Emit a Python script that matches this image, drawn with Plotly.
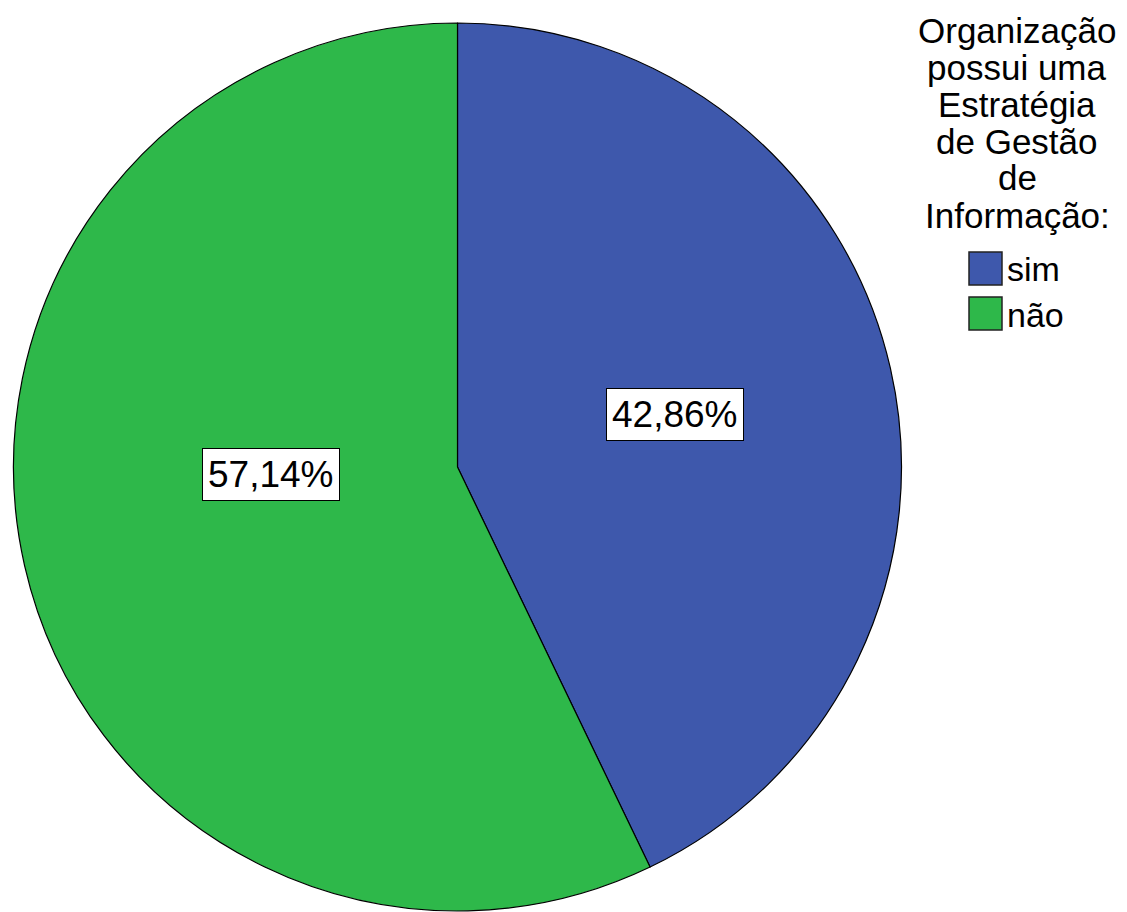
import math
import plotly.graph_objects as go

# ---- data ----
categories = ["sim", "não"]
values = [42.86, 57.14]
value_labels = ["42,86%", "57,14%"]
colors = ["#3E58AC", "#2EB84A"]
legend_title_lines = ["Organização", "possui uma", "Estratégia", "de Gestão", "de", "Informação:"]

# ---- layout constants (screen pixels) ----
W, H = 1127, 912
OFF = 8  # page body margin
pie_left, pie_right, pie_top, pie_bottom = 12, 903, 23, 911
FONT = "Liberation Sans, Arial, sans-serif"

def px_x(x):
    return (x - OFF) / W

def px_y(y):
    return 1 - (y - OFF) / H

fig = go.Figure(go.Pie(
    labels=categories,
    values=values,
    sort=False,
    direction="clockwise",
    rotation=0,
    marker=dict(colors=colors, line=dict(color="black", width=1.2)),
    textinfo="none",
    hoverinfo="label+percent",
    domain=dict(x=[px_x(pie_left), px_x(pie_right)], y=[px_y(pie_bottom), px_y(pie_top)]),
    showlegend=False,
))

# label placement: slice mid-angle, radial fraction and angle shift
label_frac = [0.503, 0.42]
label_shift = [-0.8, 10.4]
cx = (pie_left + pie_right) / 2
cy = (pie_top + pie_bottom) / 2
r = min(pie_right - pie_left, pie_bottom - pie_top) / 2
total = sum(values)
cum = 0
annotations = []
for i, v in enumerate(values):
    mid = (cum + v / 2) / total * 360 + label_shift[i]
    cum += v
    th = math.radians(mid)
    x = cx + r * label_frac[i] * math.sin(th)
    y = cy - r * label_frac[i] * math.cos(th)
    annotations.append(dict(
        x=px_x(x), y=px_y(y), xref="paper", yref="paper",
        text=value_labels[i], showarrow=False,
        font=dict(family=FONT, size=37, color="black"),
        bgcolor="white", bordercolor="black", borderwidth=1, borderpad=5,
        xanchor="center", yanchor="middle",
    ))

# legend title, one line each
title_cx = 1017
first_center = 30
pitch = 37
for j, line in enumerate(legend_title_lines):
    annotations.append(dict(
        x=px_x(title_cx), y=px_y(first_center + j * pitch), xref="paper", yref="paper",
        text=line, showarrow=False,
        font=dict(family=FONT, size=35, color="black"),
        xanchor="center", yanchor="middle",
    ))

# legend items
shapes = []
sw_left, sw_size = 969, 33
item_top0, item_pitch = 252, 45
for k, (cat, col) in enumerate(zip(categories, colors)):
    top = item_top0 + k * item_pitch
    shapes.append(dict(
        type="rect", xref="paper", yref="paper",
        x0=px_x(sw_left), x1=px_x(sw_left + sw_size),
        y0=px_y(top + sw_size), y1=px_y(top),
        fillcolor=col, line=dict(color="#222222", width=1.5),
    ))
    annotations.append(dict(
        x=px_x(sw_left + sw_size + 3), y=px_y(top + sw_size / 2 + 1), xref="paper", yref="paper",
        text=cat, showarrow=False,
        font=dict(family=FONT, size=34, color="black"),
        xanchor="left", yanchor="middle",
    ))

fig.update_layout(
    width=W, height=H,
    margin=dict(l=0, r=0, t=0, b=0),
    paper_bgcolor="white",
    plot_bgcolor="white",
    annotations=annotations,
    shapes=shapes,
)

fig.write_html("out.html")
